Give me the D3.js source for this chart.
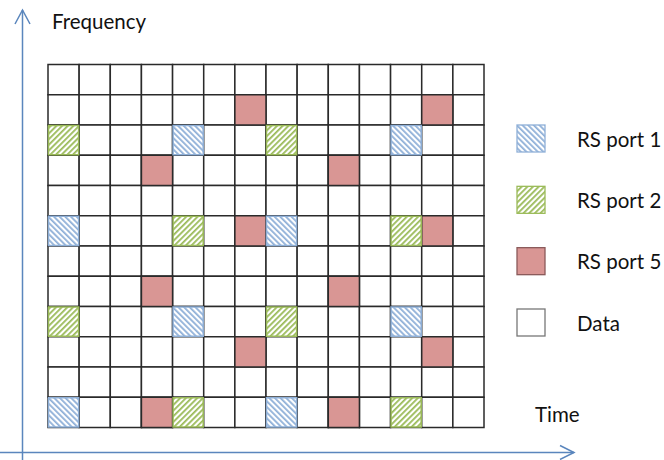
<!DOCTYPE html>
<html>
<head>
<meta charset="utf-8">
<script src="https://cdn.jsdelivr.net/npm/d3@7"></script>
<style>
  html, body { margin: 0; padding: 0; background: #fff; }
  svg { display: block; }
  text { font-family: Lato, "Open Sans", "Liberation Sans", sans-serif; fill: #111; }
</style>
</head>
<body>
<svg id="chart" width="664" height="460"></svg>
<script>
// ---- data ----
const timeSlots = [0, 1, 2, 3, 4, 5, 6, 7, 8, 9, 10, 11, 12, 13];      // columns (OFDM symbols)
const subcarriers = [0, 1, 2, 3, 4, 5, 6, 7, 8, 9, 10, 11];           // rows, top to bottom
// [row, column]
const rsPort1 = [[2, 4], [2, 11], [5, 0], [5, 7], [8, 4], [8, 11], [11, 0], [11, 7]];
const rsPort2 = [[2, 0], [2, 7], [5, 4], [5, 11], [8, 0], [8, 7], [11, 4], [11, 11]];
const rsPort5 = [[1, 6], [1, 12], [3, 3], [3, 9], [5, 6], [5, 12], [7, 3], [7, 9], [9, 6], [9, 12], [11, 3], [11, 9]];
const legendLabels = ["RS port 1", "RS port 2", "RS port 5", "Data"];
const axisLabels = { y: "Frequency", x: "Time" };

// ---- drawing ----
const svg = d3.select("#chart");
const axisColor = "#5a86bd";
const blueHatch = "#8fb0d8";
const greenHatch = "#9bbb59";
const redFill = "#d99694";

const defs = svg.append("defs");
function hatch(id, color, angle) {
  const p = defs.append("pattern")
    .attr("id", id).attr("patternUnits", "userSpaceOnUse")
    .attr("width", 4).attr("height", 4)
    .attr("patternTransform", `rotate(${angle})`);
  p.append("rect").attr("width", 4).attr("height", 4).attr("fill", "#fff");
  p.append("rect").attr("width", 1.8).attr("height", 4).attr("fill", color);
}
hatch("hatchBlue", blueHatch, -45);
hatch("hatchGreen", greenHatch, 45);

const x = d3.scaleBand().domain(timeSlots).range([48, 484]).padding(0);
const y = d3.scaleBand().domain(subcarriers).range([64.5, 427.5]).padding(0);

// grid cells (data)
const g = svg.append("g");
const allCells = [];
subcarriers.forEach(r => timeSlots.forEach(c => allCells.push([r, c])));
g.selectAll("rect.data").data(allCells).join("rect")
  .attr("class", "data")
  .attr("x", d => x(d[1])).attr("y", d => y(d[0]))
  .attr("width", x.bandwidth()).attr("height", y.bandwidth())
  .attr("fill", "#fff").attr("stroke", "#2a2a2a").attr("stroke-width", 1.5);

// RS port 5 (solid)
g.selectAll("rect.p5").data(rsPort5).join("rect")
  .attr("class", "p5")
  .attr("x", d => x(d[1])).attr("y", d => y(d[0]))
  .attr("width", x.bandwidth()).attr("height", y.bandwidth())
  .attr("fill", redFill).attr("stroke", "#2a2a2a").attr("stroke-width", 1.5);

// RS port 1 (blue hatch)
g.selectAll("rect.p1").data(rsPort1).join("rect")
  .attr("class", "p1")
  .attr("x", d => x(d[1]) + 0.5).attr("y", d => y(d[0]) + 0.5)
  .attr("width", x.bandwidth() - 1).attr("height", y.bandwidth() - 1)
  .attr("fill", "url(#hatchBlue)").attr("stroke", blueHatch).attr("stroke-width", 1.5);

// RS port 2 (green hatch)
g.selectAll("rect.p2").data(rsPort2).join("rect")
  .attr("class", "p2")
  .attr("x", d => x(d[1]) + 0.5).attr("y", d => y(d[0]) + 0.5)
  .attr("width", x.bandwidth() - 1).attr("height", y.bandwidth() - 1)
  .attr("fill", "url(#hatchGreen)").attr("stroke", greenHatch).attr("stroke-width", 1.5);

// axes arrows
const ax = svg.append("g").attr("stroke", axisColor).attr("stroke-width", 1.5).attr("fill", "none");
ax.append("line").attr("x1", 22.5).attr("y1", 460).attr("x2", 22.5).attr("y2", 10);
ax.append("polyline").attr("points", "15,24 22.5,10 30,24");
ax.append("line").attr("x1", 0).attr("y1", 452.5).attr("x2", 574).attr("y2", 452.5);
ax.append("polyline").attr("points", "560,445.5 574,452.5 560,459.5");

svg.append("text").attr("x", 52).attr("y", 28.5).attr("font-size", 20.5).text(axisLabels.y);
svg.append("text").attr("x", 535).attr("y", 422).attr("font-size", 20.5).text(axisLabels.x);

// legend
const legendFills = ["url(#hatchBlue)", "url(#hatchGreen)", redFill, "#fff"];
const legendStrokes = [blueHatch, greenHatch, "#8a5a5a", "#777"];
const ly = d3.scalePoint().domain(legendLabels).range([125, 309]);
const lg = svg.append("g");
lg.selectAll("rect").data(legendLabels).join("rect")
  .attr("x", 517).attr("y", d => ly(d))
  .attr("width", 28).attr("height", 27)
  .attr("fill", (d, i) => legendFills[i])
  .attr("stroke", (d, i) => legendStrokes[i]).attr("stroke-width", 1.3);
lg.selectAll("text").data(legendLabels).join("text")
  .attr("x", 577).attr("y", d => ly(d) + 21.5)
  .attr("font-size", 20.5).text(d => d);
</script>
</body>
</html>
